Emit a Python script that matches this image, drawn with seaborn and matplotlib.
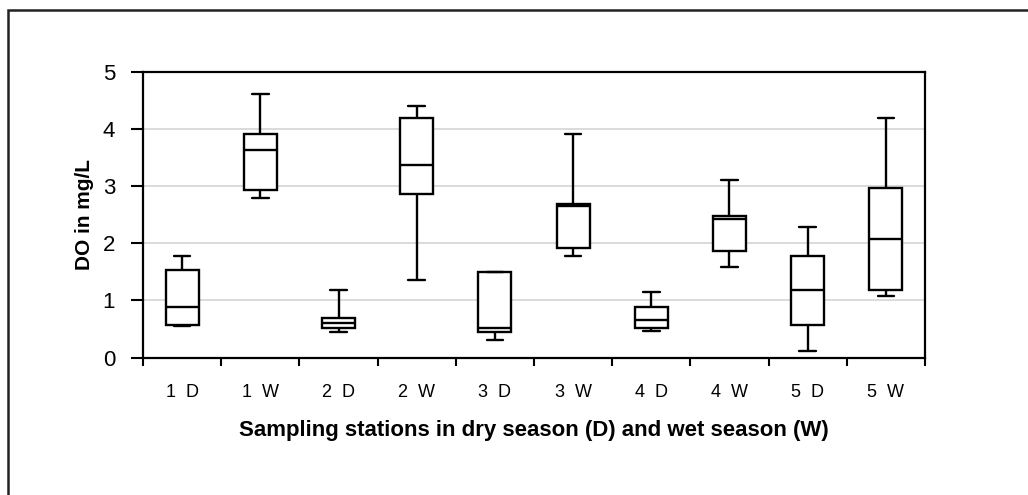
import matplotlib
matplotlib.use("Agg")
import matplotlib.pyplot as plt
from matplotlib.patches import Rectangle
import seaborn as sns
import pandas as pd

# Stations: dry (D) and wet (W) season at sites 1-5
stations = ["1 D", "1 W", "2 D", "2 W", "3 D", "3 W", "4 D", "4 W", "5 D", "5 W"]

# Five-number summaries of dissolved oxygen (mg/L) per station
do_min = [0.55, 2.79, 0.44, 1.35, 0.30, 1.77, 0.47, 1.59, 0.12, 1.07]
do_q1 = [0.57, 2.93, 0.51, 2.86, 0.44, 1.91, 0.51, 1.87, 0.57, 1.18]
do_median = [0.89, 3.63, 0.60, 3.38, 0.52, 2.66, 0.66, 2.42, 1.18, 2.08]
do_q3 = [1.53, 3.91, 0.69, 4.19, 1.49, 2.68, 0.89, 2.48, 1.77, 2.96]
do_max = [1.77, 4.62, 1.18, 4.40, 1.50, 3.91, 1.14, 3.10, 2.29, 4.19]

y_ticks = [0, 1, 2, 3, 4, 5]

rows = []
for i, st in enumerate(stations):
    for v in (do_min[i], do_q1[i], do_median[i], do_q3[i], do_max[i]):
        rows.append({"station": st, "DO": v})
df = pd.DataFrame(rows)

sns.set_style("white")
plt.rcParams["font.family"] = ["Liberation Sans", "DejaVu Sans"]
plt.rcParams["text.color"] = "black"
plt.rcParams["axes.labelcolor"] = "black"
plt.rcParams["xtick.color"] = "black"
plt.rcParams["ytick.color"] = "black"

fig = plt.figure(figsize=(10.28, 4.95), dpi=100)
ax = fig.add_axes([143 / 1028, 1 - 357.5 / 495, (925 - 143) / 1028, (357.5 - 72) / 495])

for y in y_ticks[1:-1]:
    ax.axhline(y, color="#d4d4d4", lw=1.2, zorder=0)

sns.boxplot(
    data=df, x="station", y="DO", order=stations, ax=ax,
    whis=(0, 100), width=0.42, color="white", linecolor="black",
    linewidth=1.7, fill=True, showfliers=False,
)

ax.set_ylim(0, 5)
ax.set_xlim(-0.5, len(stations) - 0.5)
ax.set_yticks(y_ticks)
ax.set_yticklabels([str(t) for t in y_ticks], fontsize=16)
ax.set_xticks(range(len(stations)))
ax.set_xticklabels([s.replace(" ", "  ") for s in stations], fontsize=13)
ax.tick_params(axis="x", which="major", bottom=False, length=0, pad=19)
ax.set_xticks([i + 0.5 for i in range(-1, len(stations))], minor=True)
ax.tick_params(axis="x", which="minor", bottom=True, length=6, width=1.5,
               direction="out", color="black")
ax.tick_params(axis="y", left=True, length=9, width=1.5, direction="out",
               color="black", pad=11)

for side in ["left", "right", "top", "bottom"]:
    ax.spines[side].set_visible(True)
    ax.spines[side].set_color("black")
    ax.spines[side].set_linewidth(1.6)

ax.set_xlabel("Sampling stations in dry season (D) and wet season (W)",
              fontsize=16, fontweight="bold", labelpad=14)
ax.set_ylabel("DO in mg/L", fontsize=15, fontweight="bold", labelpad=6)

# Outer chart frame
fig.patches.append(Rectangle((8 / 1028, -0.1), 1.2, 1 - 10 / 495 + 0.1,
                             transform=fig.transFigure, fill=False,
                             edgecolor="#222222", lw=1.8, zorder=10))

fig.savefig("out.png", dpi=100)
